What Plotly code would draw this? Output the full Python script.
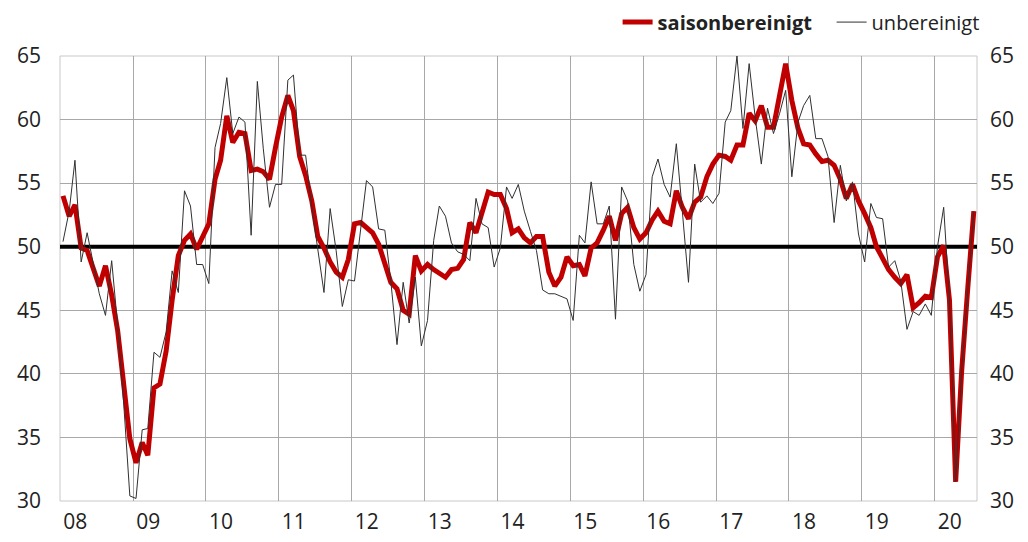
import pandas as pd
import plotly.graph_objects as go

# Monthly values, Jan 2008 .. Jul 2020
sa = [
    54.0, 52.4, 53.3, 49.9, 49.7, 48.4, 46.9, 48.5, 46.2, 43.4, 38.6, 34.9,  # 2008
    33.0, 34.6, 33.6, 38.9, 39.2, 41.8, 45.8, 49.3, 50.5, 51.0, 49.8, 50.7,  # 2009
    51.8, 55.3, 56.8, 60.3, 58.2, 59.0, 58.9, 56.0, 56.1, 55.9, 55.3, 57.8,  # 2010
    60.2, 61.9, 60.7, 57.1, 55.6, 53.6, 50.8, 49.9, 48.8, 48.0, 47.6, 49.0,  # 2011
    51.8, 51.9, 51.5, 51.1, 50.2, 48.6, 47.2, 46.7, 45.0, 44.7, 49.3, 48.1,  # 2012
    48.6, 48.2, 47.9, 47.6, 48.2, 48.3, 49.0, 51.9, 51.1, 52.8, 54.3, 54.1,  # 2013
    54.1, 53.0, 51.1, 51.4, 50.7, 50.3, 50.8, 50.8, 48.0, 46.9, 47.6, 49.2,  # 2014
    48.5, 48.6, 47.7, 49.9, 50.3, 51.3, 52.4, 50.5, 52.6, 53.1, 51.5, 50.6,  # 2015
    51.1, 52.1, 52.8, 52.0, 51.8, 54.4, 53.1, 52.2, 53.5, 53.9, 55.5, 56.5,  # 2016
    57.2, 57.1, 56.8, 58.0, 58.0, 60.5, 59.9, 61.1, 59.4, 59.4, 61.8, 64.4,  # 2017
    61.5, 59.3, 58.1, 58.0, 57.3, 56.7, 56.8, 56.4, 55.3, 53.8, 54.9, 53.6,  # 2018
    52.6, 51.5, 50.0, 49.0, 48.2, 47.6, 47.1, 47.8, 45.2, 45.6, 46.1, 46.0,  # 2019
    49.2, 50.1, 45.8, 31.5, 40.2, 46.8, 52.8,                                # 2020
]
nsa = [
    50.4, 52.8, 56.8, 48.8, 51.1, 48.6, 46.3, 44.6, 48.9, 43.8, 37.5, 30.4,  # 2008
    30.2, 35.6, 35.7, 41.7, 41.3, 43.3, 48.1, 46.4, 54.4, 53.2, 48.6, 48.6,  # 2009
    47.1, 57.8, 59.7, 63.3, 58.9, 60.2, 59.8, 50.9, 63.0, 57.7, 53.1, 54.9,  # 2010
    54.9, 63.1, 63.5, 57.2, 57.2, 53.1, 49.9, 46.4, 53.0, 49.7, 45.3, 47.4,  # 2011
    47.3, 51.5, 55.2, 54.7, 51.4, 51.3, 47.3, 42.3, 47.2, 44.0, 47.6, 42.2,  # 2012
    44.2, 50.5, 53.2, 52.4, 50.3, 49.6, 49.4, 48.9, 53.8, 51.8, 51.5, 48.4,  # 2013
    49.9, 54.7, 53.8, 54.9, 52.8, 51.2, 49.7, 46.6, 46.3, 46.3, 46.1, 45.9,  # 2014
    44.2, 50.9, 50.3, 55.1, 51.8, 51.8, 53.2, 44.3, 54.7, 53.6, 48.6, 46.5,  # 2015
    47.8, 55.5, 56.9, 54.9, 53.9, 58.1, 52.8, 47.2, 56.5, 53.5, 54.0, 53.4,  # 2016
    54.2, 59.8, 60.7, 65.0, 59.3, 64.4, 60.2, 56.5, 60.9, 58.9, 60.5, 62.3,  # 2017
    55.5, 59.8, 61.1, 61.9, 58.5, 58.5, 57.1, 51.9, 56.4, 53.6, 55.1, 51.0,  # 2018
    48.8, 53.4, 52.3, 52.2, 48.4, 48.9, 47.3, 43.5, 44.9, 44.6, 45.5, 44.6,  # 2019
    50.0, 53.1, 45.8, 31.5, 40.2, 46.8, 52.8,                                # 2020
]
year_labels = ["08", "09", "10", "11", "12", "13", "14", "15", "16", "17", "18", "19", "20"]
series_names = ["<b>saisonbereinigt</b>", "unbereinigt"]
threshold = 50
x_start, x_end = "2008-01-01", "2020-08-01"

months = pd.date_range(x_start, periods=len(sa), freq="MS") + pd.Timedelta(days=15)
year_starts = pd.date_range(x_start, periods=len(year_labels), freq="12MS")
label_pos = year_starts + pd.Timedelta(days=76)   # labels sit just right of each year line

FONT = "Open Sans"
GRID = "#a8a8a8"
TXT = "#222222"

fig = go.Figure()
# threshold line at 50 (below the series, above the grid)
fig.add_trace(go.Scatter(
    x=[x_start, x_end], y=[threshold, threshold], mode="lines",
    line=dict(color="black", width=4), showlegend=False, hoverinfo="skip",
))
fig.add_trace(go.Scatter(
    x=months, y=sa, name=series_names[0], mode="lines",
    line=dict(color="#c00000", width=5),
))
fig.add_trace(go.Scatter(
    x=months, y=nsa, name=series_names[1], mode="lines",
    line=dict(color="#303030", width=1), yaxis="y2",
))

fig.add_shape(type="rect", xref="paper", yref="paper", x0=0, x1=1, y0=0, y1=1,
              line=dict(color="#c8c8c8", width=1), layer="below")

fig.update_layout(
    width=1028, height=542,
    margin=dict(l=52, r=59, t=48, b=49, autoexpand=False),
    paper_bgcolor="white", plot_bgcolor="white",
    font=dict(family=FONT, color=TXT),
    showlegend=True,
    legend=dict(orientation="h", xref="container", yref="container",
                x=0.593, xanchor="left", y=0.974, yanchor="middle",
                font=dict(size=20, family=FONT, color=TXT),
                bgcolor="rgba(0,0,0,0)", itemwidth=30, entrywidth=169,
                tracegroupgap=0),
    xaxis=dict(
        type="date", range=[x_start, x_end],
        tickvals=label_pos, ticktext=year_labels,
        showgrid=False, zeroline=False, showline=False, ticks="", automargin=False,
        tickfont=dict(size=21, family=FONT, color=TXT),
        ticklabelstandoff=6,
        minor=dict(tickvals=year_starts, showgrid=True, gridcolor=GRID, gridwidth=1, ticks=""),
    ),
    yaxis=dict(
        range=[30, 65], dtick=5, tick0=30,
        showgrid=True, gridcolor=GRID, gridwidth=1,
        zeroline=False, showline=False, ticks="", automargin=False,
        tickfont=dict(size=21, family=FONT, color=TXT),
        ticklabelstandoff=18,
    ),
    yaxis2=dict(
        range=[30, 65], dtick=5, tick0=30, matches="y",
        overlaying="y", side="right",
        showgrid=False, zeroline=False, showline=False, ticks="", automargin=False,
        tickfont=dict(size=21, family=FONT, color=TXT),
        ticklabelstandoff=12,
    ),
)

fig.write_html("out.html")
